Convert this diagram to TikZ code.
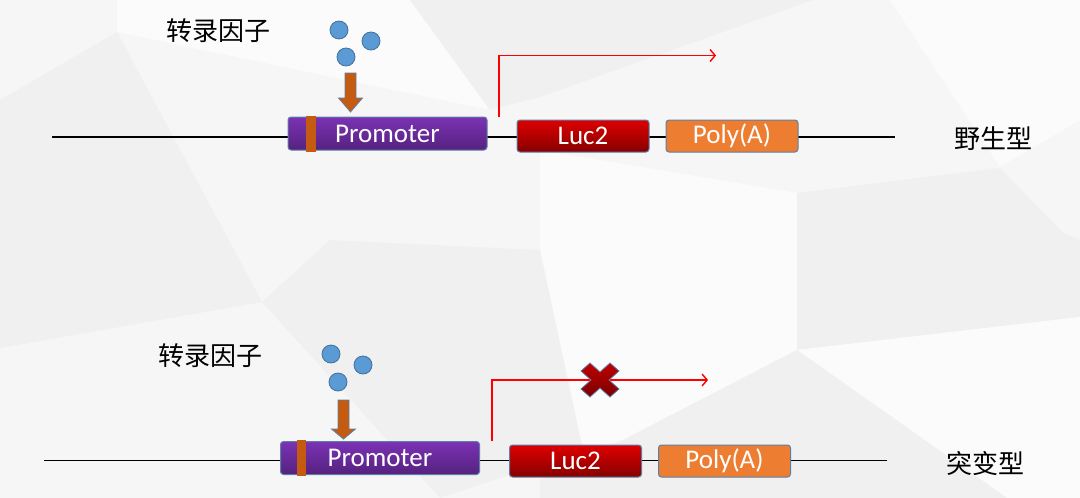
\documentclass[tikz,border=0pt]{standalone}
\usepackage{fontspec}
\setmainfont{Carlito}
\newfontfamily\cjk{Noto Sans CJK SC}
\usetikzlibrary{arrows.meta,calc}
\definecolor{bgbase}{HTML}{F6F6F6}
\definecolor{bgdark}{HTML}{F0F0F0}
\definecolor{bglight}{HTML}{FBFBFB}
\definecolor{edgeblue}{HTML}{5D7FA6}
\definecolor{procol}{HTML}{7B32B4}
\definecolor{prodark}{HTML}{55227F}
\definecolor{lucred}{HTML}{DE0000}
\definecolor{lucdark}{HTML}{860000}
\definecolor{polycol}{HTML}{ED7D31}
\definecolor{barcol}{HTML}{C55A11}
\definecolor{tfblue}{HTML}{5B9BD5}
\definecolor{tfedge}{HTML}{41719C}
\definecolor{xred}{HTML}{C00000}
\definecolor{xdark}{HTML}{7A0000}
\tikzset{
	part/.style={draw=edgeblue, line width=1pt, rounded corners=3pt, minimum height=32pt, inner sep=0pt, text=white, font=\fontsize{27}{27}\selectfont},
	promo/.style={part, minimum width=199pt, minimum height=33pt, top color=procol, middle color=procol, bottom color=prodark},
	luc/.style={part, minimum width=132pt, top color=lucred, middle color=lucred!92!black, bottom color=lucdark},
	polya/.style={part, minimum width=132pt, fill=polycol},
	tf/.style={circle, draw=tfedge, fill=tfblue, line width=0.8pt, minimum size=18pt, inner sep=0pt},
	lab/.style={font=\cjk\fontsize{26}{26}\selectfont, inner sep=0pt},
	dna/.style={line width=1.5pt},
	tss/.style={draw=red, line width=1.4pt, ->},
	bind/.style={draw=edgeblue, line width=0.8pt, fill=barcol},
	xmark/.style={draw=edgeblue, line width=0.8pt, top color=xred, bottom color=xdark},
	>={Straight Barb[length=5pt,width=12pt]}
}
\begin{document}
\begin{tikzpicture}[x=1pt,y=-1pt]
	\useasboundingbox (0,0) rectangle (1080,498);
	% background facets
	\fill[bgbase] (0,0) rectangle (1080,498);
	\fill[bgdark] (0,100) -- (117,32) -- (262,302) -- (0,348) -- cycle;
	\fill[bglight] (117,0) -- (410,0) -- (490,110) -- (117,32) -- cycle;
	\fill[bgdark] (410,0) -- (813,0) -- (540,97) -- (490,110) -- cycle;
	\fill[bglight] (890,0) -- (1080,0) -- (1080,120) -- (1000,167) -- cycle;
	\fill[bglight] (540,150) -- (797,193) -- (797,350) -- (623,440) -- (583,450) -- (540,260) -- cycle;
	\fill[bgdark] (797,193) -- (1000,168) -- (1063,233) -- (1080,240) -- (1080,317) -- (797,350) -- cycle;
	\fill[bglight] (797,350) -- (1080,317) -- (1080,498) -- (1007,498) -- cycle;
	\fill[bgdark] (262,302) -- (330,240) -- (540,250) -- (583,450) -- (440,498) -- cycle;
	\fill[bgdark] (797,350) -- (1007,498) -- (540,498) -- (540,480) -- (623,440) -- cycle;

	% wild type
	\coordinate (wl1) at (52,137);
	\coordinate (wr1) at (895,137);
	\draw[dna] (wl1) -- (wr1);
	\node[promo] (pro1) at (387.5,133.5) {Promoter};
	\fill[barcol] ([xshift=18pt,yshift=1pt]pro1.north west) rectangle ([xshift=28pt,yshift=-1pt]pro1.south west);
	\node[luc] (luc1) at (583,136) {Luc2};
	\node[polya] (pa1) at (732,136) {Poly(A)};
	\coordinate (tss1) at (499,117);
	\coordinate (end1) at (716,55.5);
	\draw[tss] (tss1) |- (end1);
	\node[tf] (tfa1) at (339,30) {};
	\node[tf] (tfb1) at (371,41) {};
	\node[tf] (tfc1) at (346,57) {};
	\coordinate (tip1) at (350.5,112);
	\draw[bind] (tip1) -- ++(-12,-14) -- ++(6.5,0) -- ++(0,-25) -- ++(11,0) -- ++(0,25) -- ++(6.5,0) -- cycle;
	\node[lab] (tfl1) at (218,31) {转录因子};
	\node[lab] (wt) at (993,139) {野生型};

	% mutant
	\coordinate (wl2) at (44,460.5);
	\coordinate (wr2) at (887,460.5);
	\draw[dna] (wl2) -- (wr2);
	\node[promo] (pro2) at (380,458) {Promoter};
	\fill[barcol] ([xshift=17pt,yshift=1pt]pro2.north west) rectangle ([xshift=26pt,yshift=-1pt]pro2.south west);
	\node[luc] (luc2) at (575.5,461) {Luc2};
	\node[polya] (pa2) at (724.5,461) {Poly(A)};
	\coordinate (tss2) at (492,441);
	\coordinate (end2) at (708,380);
	\draw[tss] (tss2) |- (end2);
	\coordinate (xm) at ($(tss2 |- end2)!0.5!(end2)$);
	\draw[xmark, shift={(xm)}] (10,-17) -- (19,-9) -- (9,0) -- (19,9) -- (10,17) -- (0,8) -- (-10,17) -- (-19,9) -- (-9,0) -- (-19,-9) -- (-10,-17) -- (0,-8) -- cycle;
	\node[tf] (tfa2) at (331,354) {};
	\node[tf] (tfb2) at (363,365) {};
	\node[tf] (tfc2) at (338,382) {};
	\coordinate (tip2) at (343.5,439);
	\draw[bind] (tip2) -- ++(-12,-10) -- ++(6.5,0) -- ++(0,-29) -- ++(11,0) -- ++(0,29) -- ++(6.5,0) -- cycle;
	\node[lab] (tfl2) at (210,356) {转录因子};
	\node[lab] (mt) at (985,464) {突变型};
\end{tikzpicture}
\end{document}
